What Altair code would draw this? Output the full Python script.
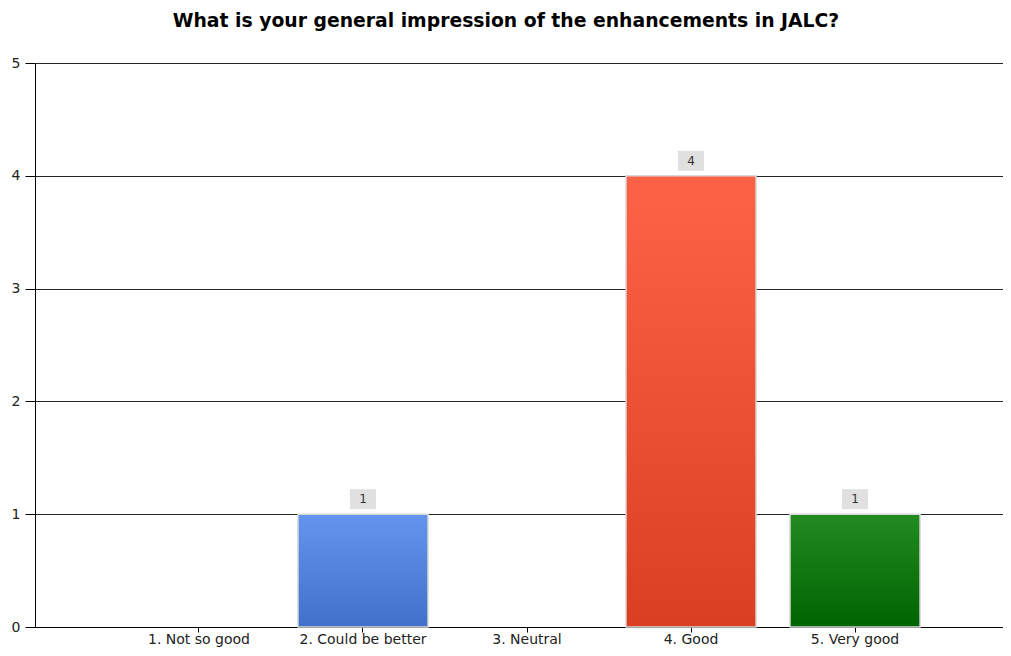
import altair as alt
import pandas as pd

categories = ["1. Not so good", "2. Could be better", "3. Neutral", "4. Good", "5. Very good"]
counts = [0, 1, 0, 4, 1]
grad_top = ["#6495ED", "#6495ED", "#6495ED", "#FF6347", "#228B22"]
grad_bottom = ["#4170C8", "#4170C8", "#4170C8", "#DA3F22", "#006400"]

df = pd.DataFrame({"cat": categories, "n": counts})

FONT = "DejaVu Sans"

xenc = alt.X("cat:N", sort=categories, title=None,
             scale=alt.Scale(paddingInner=0.207, paddingOuter=0.5545, align=0.544),
             axis=alt.Axis(labelAngle=0, labelFontSize=14, labelColor="#222", labelFont=FONT,
                           domainColor="#000", tickColor="#000", tickSize=5, labelPadding=0,
                           grid=False))
yenc = alt.Y("n:Q", title=None,
             scale=alt.Scale(domain=[0, 5], nice=False),
             axis=alt.Axis(values=[0, 1, 2, 3, 4, 5], format="d", labelFontSize=14, labelColor="#222",
                           labelFont=FONT, domainColor="#000", tickColor="#000", tickSize=10,
                           gridColor="#000", gridOpacity=0.85, labelPadding=5))

base = alt.Chart(df)

layers = []
layers.append(base.mark_bar(opacity=0).encode(x=xenc, y=yenc))

for i, c in enumerate(categories):
    if counts[i] <= 0:
        continue
    layers.append(
        base.transform_filter(alt.datum.cat == c).mark_bar(
            color=alt.Gradient(gradient="linear", x1=0, x2=0, y1=0, y2=1,
                               stops=[alt.GradientStop(color=grad_top[i], offset=0),
                                      alt.GradientStop(color=grad_bottom[i], offset=1)]),
            stroke="#d8d8d8", strokeWidth=1.5
        ).encode(x=alt.X("cat:N", sort=categories), y="n:Q")
    )

nz = base.transform_filter(alt.datum.n > 0)
boxes = nz.mark_bar(width=26, color="#e0e0e0", yOffset=-25, y2Offset=-5).encode(
    x=alt.X("cat:N", sort=categories), y="n:Q", y2="n:Q")
labels = nz.mark_text(font=FONT, fontSize=12, color="#333", dy=-15, baseline="middle").encode(
    x=alt.X("cat:N", sort=categories), y="n:Q", text="n:Q")

chart = alt.layer(*layers, boxes, labels).properties(
    width=968, height=564,
    padding={"left": 27, "top": 55, "right": 0, "bottom": 21},
    autosize=alt.AutoSizeParams(type="none"),
    title=alt.Title("What is your general impression of the enhancements in JALC?",
                    font=FONT, fontSize=18.8, fontWeight="bold", color="#000",
                    anchor="middle", dx=-13, offset=25),
).configure_view(stroke=None).configure_axis(gridWidth=1)

chart.save("out.html", embed_options={"renderer": "svg", "actions": False})
